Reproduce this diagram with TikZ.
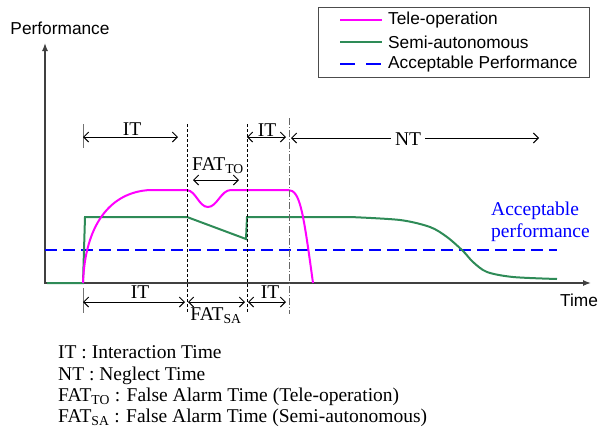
\documentclass[tikz,border=0pt]{standalone}
\usepackage{fontspec}
\setmainfont{Liberation Serif}
\newfontfamily\arialfont{Liberation Sans}
\usetikzlibrary{arrows.meta}
\definecolor{teleop}{RGB}{255,0,255}
\definecolor{semiauto}{RGB}{46,139,87}

\begin{document}
\begin{tikzpicture}[x=1pt,y=-1pt,
        axis/.style = {line width=1.3pt, black!75, {Latex[length=8pt,width=6pt]}-{Latex[length=8pt,width=6pt]}},
        tele/.style = {line width=2pt, teleop},
        semi/.style = {line width=2pt, semiauto},
        accept/.style = {line width=2pt, blue, dash pattern=on 12pt off 6pt},
        guide/.style = {line width=0.8pt, dash pattern=on 3pt off 2pt},
        dimarrow/.style = {line width=1pt, {Straight Barb[length=5pt,width=10pt]}-{Straight Barb[length=5pt,width=10pt]}},
        tickline/.style = {line width=1pt, black!55},
        lbl/.style = {font=\fontsize{19.5}{23}\selectfont, inner sep=0pt},
        sf/.style = {font=\arialfont\fontsize{17.3}{20}\selectfont, inner sep=0pt}
    ]
    \useasboundingbox (0,0) rectangle (608,432);
    % axes
    \coordinate (O) at (45,283);
    \coordinate (ytop) at (45,43);
    \coordinate (xend) at (591,283);
    \draw[axis] (ytop) -- (O) -- (xend);
    \node[sf] (perf) at (60,28) {Performance};
    \node[sf] (time) at (579,300) {Time};

    % legend
    \node[draw=black!70, line width=0.8pt, minimum width=271pt, minimum height=70pt, anchor=north west, inner sep=0pt] (legend) at (318,7) {};
    \coordinate (l1a) at (340,20); \coordinate (l1b) at (382,20);
    \coordinate (l2a) at (340,42); \coordinate (l2b) at (382,42);
    \coordinate (l3a) at (340,64); \coordinate (l3b) at (382,64);
    \draw[tele] (l1a) -- (l1b);
    \draw[semi] (l2a) -- (l2b);
    \draw[accept, dash pattern=on 15pt off 11pt] (l3a) -- (l3b);
    \node[sf, anchor=west] (ltele) at (388,20) {Tele-operation};
    \node[sf, anchor=west] (lsemi) at (388,42) {Semi-autonomous};
    \node[sf, anchor=west] (lacc) at (388,64) {Acceptable Performance};

    % curves
    \coordinate (acca) at (45,250);
    \coordinate (accb) at (557,250);
    \draw[accept] (acca) -- (accb);
    \draw[semi] (47,283) -- (83,283) -- (85,217) -- (187,217) -- (246,239) -- (247,217) -- (350,217)
        -- plot[smooth] coordinates {(350,217) (400,220) (430,227) (447,237) (463,251) (473,262) (487,272) (513,277) (557,279)};
    \draw[tele] (83,283) .. controls (85,225) and (110,192) .. (150,190) -- (187,190)
        .. controls (196,191) and (199,207) .. (208,207) .. controls (217,207) and (221,190) .. (231,190)
        -- (288,190) .. controls (300,190) and (303,210) .. (313,283);
    \node[lbl, blue, anchor=base west] (acc1) at (491,215) {Acceptable};
    \node[lbl, blue, anchor=base west] (acc2) at (491,237) {performance};

    % guides
    \coordinate (g1t) at (187,124); \coordinate (g1b) at (187,312);
    \coordinate (g2t) at (247,124); \coordinate (g2b) at (247,312);
    \coordinate (g3t) at (289,118); \coordinate (g3b) at (289,314);
    \draw[guide] (g1t) -- (g1b);
    \draw[guide] (g2t) -- (g2b);
    \draw[guide, black!60, dash pattern=on 7pt off 2pt on 1pt off 2pt] (g3t) -- (g3b);
    \coordinate (t1t) at (83,124); \coordinate (t1b) at (83,148);
    \coordinate (t2t) at (83,288); \coordinate (t2b) at (83,313);
    \draw[tickline] (t1t) -- (t1b);
    \draw[tickline] (t2t) -- (t2b);

    % times above
    \coordinate (it1a) at (83,137); \coordinate (it1b) at (178,137);
    \coordinate (it2a) at (247,137); \coordinate (it2b) at (286,137);
    \coordinate (nta) at (291,138); \coordinate (ntb) at (539,138);
    \coordinate (fta) at (193,180); \coordinate (ftb) at (239,180);
    \draw[dimarrow] (it1a) -- (it1b);
    \draw[dimarrow] (it2a) -- (it2b);
    \draw[dimarrow] (nta) -- (ntb);
    \draw[dimarrow] (fta) -- (ftb);
    \node[lbl, anchor=base] (it1) at (132,135) {IT};
    \node[lbl, anchor=base] (it2) at (267,136) {IT};
    \node[lbl, fill=white, inner xsep=4pt] (nt) at (408,139.5) {NT};
    \node[lbl, anchor=base] (fto) at (218,170) {FAT\textsubscript{TO}};

    % times below
    \coordinate (bi1a) at (83,302); \coordinate (bi1b) at (185,302);
    \coordinate (fsa) at (188,302); \coordinate (fsb) at (245,302);
    \coordinate (bi2a) at (248,302); \coordinate (bi2b) at (286,302);
    \draw[dimarrow] (bi1a) -- (bi1b);
    \draw[dimarrow] (fsa) -- (fsb);
    \draw[dimarrow] (bi2a) -- (bi2b);
    \node[lbl, anchor=base] (bit1) at (140,298) {IT};
    \node[lbl, anchor=base] (bit2) at (270,298) {IT};
    \node[lbl, anchor=base] (fsa) at (216,320) {FAT\textsubscript{SA}};

    % key
    \node[lbl, anchor=base west] (key1) at (58,358) {IT : Interaction Time};
    \node[lbl, anchor=base west] (key2) at (58,380) {NT : Neglect Time};
    \node[lbl, anchor=base west] (key3) at (58,401.5) {FAT\textsubscript{TO} : False Alarm Time (Tele-operation)};
    \node[lbl, anchor=base west] (key4) at (58,422.5) {FAT\textsubscript{SA} : False Alarm Time (Semi-autonomous)};
\end{tikzpicture}
\end{document}
